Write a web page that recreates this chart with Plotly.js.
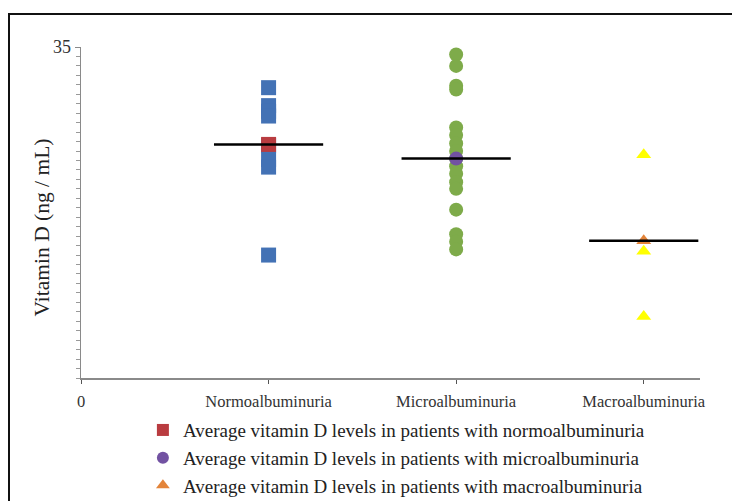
<!DOCTYPE html>
<html>
<head>
<meta charset="utf-8">
<script src="https://cdn.plot.ly/plotly-3.0.1.min.js"></script>
<style>
  html, body { margin: 0; padding: 0; background: #fff; }
  #wrap { position: relative; width: 732px; height: 501px; overflow: hidden; }
  #chart { width: 732px; height: 501px; }
  #frame { position: absolute; left: 8px; top: 13px; width: 740px; height: 500px;
           border-top: 2px solid #111; border-left: 2px solid #111; pointer-events: none; }
</style>
</head>
<body>
<div id="wrap">
  <div id="chart"></div>
  <div id="frame"></div>
</div>
<script>
// Group positions on the numeric x axis and their labels
const groupPos = [1, 2, 3];
const xTickVals = [0, 1, 2, 3];
const xTickText = ['0', 'Normoalbuminuria', 'Microalbuminuria', 'Macroalbuminuria'];

// Individual vitamin D values (ng / mL) per group
const normoValues = [30.7, 28.8, 28.2, 27.7, 24.6, 23.1, 22.3, 13.0];
const microValues = [34.2, 33.0, 30.9, 30.5, 26.5, 25.7, 24.8, 24.0, 23.2, 22.4, 21.6, 20.7, 20.0, 17.8, 15.2, 14.4, 13.6];
const macroValues = [23.6, 13.4, 6.5];

// Group averages
const meanValues = [24.7, 23.2, 14.5];
const meanNames = [
  'Average vitamin D levels in patients with normoalbuminuria',
  'Average vitamin D levels in patients with microalbuminuria',
  'Average vitamin D levels in patients with macroalbuminuria'
];

const serif = 'Liberation Serif, Times New Roman, serif';

function groupTrace(pos, values, symbol, color, size) {
  return {
    type: 'scatter', mode: 'markers',
    x: values.map(() => pos), y: values,
    marker: { symbol: symbol, color: color, size: size },
    showlegend: false, hoverinfo: 'skip'
  };
}

const traces = [
  groupTrace(groupPos[0], normoValues, 'square', '#4372b5', 15),
  groupTrace(groupPos[1], microValues, 'circle', '#7eab4a', 14),
  groupTrace(groupPos[2], macroValues, 'triangle-up', '#ffff00', 13)
];

// Average markers (shown in the legend)
const meanStyles = [
  { symbol: 'square', color: '#b93c40', size: 15 },
  { symbol: 'circle', color: '#7252a2', size: 14 },
  { symbol: 'triangle-up', color: '#e3843a', size: 13 }
];
meanStyles.forEach((st, i) => {
  traces.push({
    type: 'scatter', mode: 'markers',
    x: [groupPos[i]], y: [meanValues[i]],
    name: meanNames[i], legendgroup: 'g' + i,
    marker: { symbol: st.symbol, color: st.color, size: st.size },
    hoverinfo: 'skip'
  });
});

// Horizontal bars marking each average
traces.push({
  type: 'scatter', mode: 'markers',
  x: groupPos, y: meanValues,
  marker: { symbol: 'line-ew', size: 78, color: '#000', line: { color: '#000', width: 2.5 } },
  showlegend: false, hoverinfo: 'skip'
});

const layout = {
  width: 732, height: 501,
  margin: { l: 81, r: 32, t: 47, b: 123, autoexpand: false },
  paper_bgcolor: '#fff', plot_bgcolor: '#fff',
  font: { family: serif, color: '#333' },
  xaxis: {
    range: [0, 3.3], showgrid: false, zeroline: false,
    showline: true, linecolor: '#8a8a8a', linewidth: 1.5,
    tickmode: 'array', tickvals: xTickVals, ticktext: xTickText,
    ticks: 'outside', ticklen: 4, tickcolor: '#555', tickwidth: 1,
    ticklabelstandoff: 4,
    tickfont: { family: serif, size: 16.5, color: '#333' }
  },
  yaxis: {
    range: [0, 35], showgrid: false, zeroline: false,
    showline: true, linecolor: '#8a8a8a', linewidth: 1.5,
    tickmode: 'array', tickvals: [35], ticktext: ['35'],
    ticks: 'outside', ticklen: 5, tickcolor: '#8a8a8a',
    tickfont: { family: serif, size: 18, color: '#333' },
    minor: { dtick: 1, ticks: 'outside', ticklen: 4, tickcolor: '#999', tickwidth: 1 }
  },
  annotations: [{
    text: 'Vitamin D (ng / mL)', textangle: -90,
    xref: 'paper', yref: 'paper', x: -0.063, y: 0.455,
    xanchor: 'center', yanchor: 'middle', showarrow: false,
    font: { family: serif, size: 21.5, color: '#222' }
  }],
  showlegend: true,
  legend: {
    x: 0.1, y: -0.1, xanchor: 'left', yanchor: 'top',
    orientation: 'v', traceorder: 'grouped', tracegroupgap: 0,
    itemsizing: 'constant', bgcolor: 'rgba(0,0,0,0)',
    font: { family: serif, size: 19, color: '#222' }
  }
};

Plotly.newPlot('chart', traces, layout, { staticPlot: true, displayModeBar: false });
</script>
</body>
</html>
